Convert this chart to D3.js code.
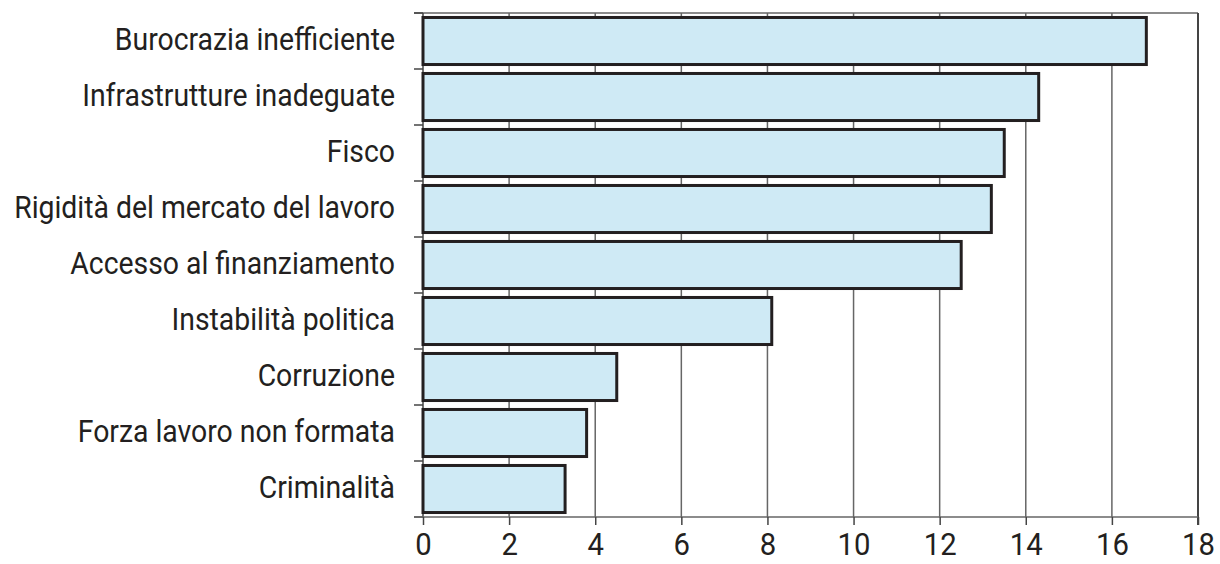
<!DOCTYPE html>
<meta charset="utf-8">
<script src="https://cdn.jsdelivr.net/npm/d3@7"></script>
<style>
    body { margin: 0; background: #fff; }
    text { font-family: Roboto, "Liberation Sans", sans-serif; fill: #231f20; }
</style>
<div id="chart"></div>
<script>
    // data
    const categories = [
        "Burocrazia inefficiente",
        "Infrastrutture inadeguate",
        "Fisco",
        "Rigidità del mercato del lavoro",
        "Accesso al finanziamento",
        "Instabilità politica",
        "Corruzione",
        "Forza lavoro non formata",
        "Criminalità"
    ];
    const values = [16.8, 14.3, 13.5, 13.2, 12.5, 8.1, 4.5, 3.8, 3.3];
    const xTicks = [0, 2, 4, 6, 8, 10, 12, 14, 16, 18];

    const data = categories.map((c, i) => ({name: c, value: values[i]}));

    const width = 1220, height = 564;
    const margin = {top: 13, right: 22, bottom: 47, left: 423};
    const labelRight = 395, widestLabel = 381; // condensed face is faked by squeezing

    const svg = d3.select("#chart").append("svg")
        .attr("width", width)
        .attr("height", height);

    const x = d3.scaleLinear()
        .domain([0, 18])
        .range([margin.left, width - margin.right]);

    const y = d3.scaleBand()
        .domain(categories)
        .range([margin.top, height - margin.bottom])
        .paddingInner(0.16)
        .paddingOuter(0.08);

    const yTop = y.range()[0], yBottom = y.range()[1];

    // vertical grid
    svg.append("g")
        .selectAll("line")
        .data(xTicks.slice(1, -1))
        .join("line")
        .attr("x1", d => x(d)).attr("x2", d => x(d))
        .attr("y1", yTop).attr("y2", yBottom)
        .attr("stroke", "#666")
        .attr("stroke-width", 1.5);

    // top frame line
    svg.append("line")
        .attr("x1", x(0) - 9).attr("x2", x(18))
        .attr("y1", yTop).attr("y2", yTop)
        .attr("stroke", "#666").attr("stroke-width", 1.5);

    // right frame line
    svg.append("line")
        .attr("x1", x(18)).attr("x2", x(18))
        .attr("y1", yTop).attr("y2", yBottom + 8)
        .attr("stroke", "#444").attr("stroke-width", 2);

    // left axis line + category boundary ticks
    svg.append("line")
        .attr("x1", x(0)).attr("x2", x(0))
        .attr("y1", yTop).attr("y2", yBottom)
        .attr("stroke", "#444").attr("stroke-width", 1.5);

    svg.append("g")
        .selectAll("line")
        .data(d3.range(categories.length + 1))
        .join("line")
        .attr("x1", x(0) - 9).attr("x2", x(0))
        .attr("y1", i => yTop + i * y.step())
        .attr("y2", i => yTop + i * y.step())
        .attr("stroke", "#444").attr("stroke-width", 1.5);

    // bars
    svg.append("g")
        .selectAll("rect")
        .data(data)
        .join("rect")
        .attr("x", x(0))
        .attr("y", d => y(d.name))
        .attr("width", d => x(d.value) - x(0))
        .attr("height", y.bandwidth())
        .attr("fill", "#cfeaf5")
        .attr("stroke", "#231f20")
        .attr("stroke-width", 3);

    // category labels
    const labels = svg.append("g")
        .selectAll("text")
        .data(categories)
        .join("text")
        .attr("dy", "0.3em")
        .attr("text-anchor", "end")
        .style("font-size", "31px")
        .text(d => d);

    const maxW = d3.max(labels.nodes(), n => n.getComputedTextLength());
    const sx = widestLabel / maxW;

    labels.attr("transform", d => `translate(${labelRight},${y(d) + y.bandwidth() / 2}) scale(${sx},1)`);

    // bottom axis
    const xAxis = d3.axisBottom(x)
        .tickValues(xTicks)
        .tickSize(8)
        .tickPadding(10)
        .tickSizeOuter(0);

    const gx = svg.append("g")
        .attr("transform", `translate(0,${yBottom})`)
        .call(xAxis);

    gx.select(".domain")
        .attr("d", `M${x(0) - 9},0H${x(18)}`)
        .attr("stroke", "#666")
        .attr("stroke-width", 1.5);
    gx.selectAll(".tick line").attr("stroke", "#444").attr("stroke-width", 1.5);
    gx.selectAll(".tick text")
        .style("font-size", "32px")
        .attr("fill", "#231f20")
        .attr("transform", `scale(${sx},1)`)
        .attr("y", 38)
        .attr("dy", 0);
</script>
